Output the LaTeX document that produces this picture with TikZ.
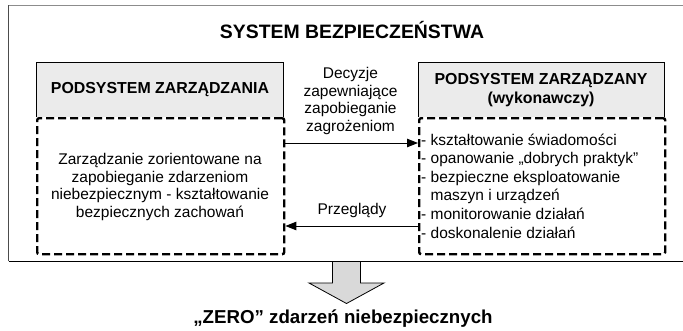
\documentclass[tikz,border=0pt]{standalone}
\usepackage{fontspec}
\setmainfont{Liberation Sans}
\usetikzlibrary{arrows.meta}
\definecolor{hdrfill}{HTML}{EBEBEB}
\definecolor{bigarrow}{HTML}{D9D9D9}
\tikzset{
  body/.style={font=\fontsize{15.5}{17.8}\selectfont, inner sep=0pt},
  hdrtext/.style={font=\bfseries\fontsize{15.9}{18.2}\selectfont, inner sep=0pt, align=center},
  dashbox/.style={draw, line width=2.4pt, dash pattern=on 8pt off 4pt, rounded corners=2pt},
  conn/.style={line width=1pt, -{Triangle[length=11pt,width=8.5pt]}},
}
\begin{document}
\begin{tikzpicture}[x=1pt,y=-1pt]
\useasboundingbox (0,0) rectangle (683,330);
% outer frame
\draw[line width=1pt, color=black!45] (8.5,5) -- (690,5);
\draw[line width=1.2pt, color=black!70] (8.5,5) -- (8.5,261);
\draw[line width=1pt] (8.5,261) -- (690,261);
\node[font=\bfseries\fontsize{19.4}{22}\selectfont, inner sep=0pt] (title) at (352,30) {SYSTEM BEZPIECZEŃSTWA};

% left header box
\fill[hdrfill] (36,62) rectangle (283,117);
\draw[line width=1pt] (36,117) -- (36,62) -- (283,62) -- (283,117);
\node[hdrtext] (lh) at (160,90) {PODSYSTEM ZARZĄDZANIA};
% right header box
\fill[hdrfill] (418,62) rectangle (664,117);
\draw[line width=1pt] (418,117) -- (418,62) -- (664,62) -- (664,117);
\node[hdrtext] (rh) at (541,90) {PODSYSTEM ZARZĄDZANY\\(wykonawczy)};

% dashed bodies
\node[dashbox, minimum width=247pt, minimum height=136pt, anchor=north west] (lb) at (36,117) {};
\node[dashbox, minimum width=246pt, minimum height=136pt, anchor=north west] (rb) at (418,117) {};

\node[body, align=center] (ltxt) at (160,187) {Zarządzanie zorientowane na\\zapobieganie zdarzeniom\\niebezpiecznym - kształtowanie\\bezpiecznych zachowań};
\node[body, align=left, anchor=west, font=\fontsize{15.5}{18.6}\selectfont] (rtxt) at (421,186) {- kształtowanie świadomości\\- opanowanie „dobrych praktyk”\\- bezpieczne eksploatowanie\\\hphantom{- }maszyn i urządzeń\\- monitorowanie działań\\- doskonalenie działań};

% connectors
\draw[conn] (lb.east |- 0,143) -- (rb.west |- 0,143);
\draw[conn] (rb.west |- 0,226) -- (lb.east |- 0,226);
\node[body, align=center] (dec) at (350.5,101) {Decyzje\\zapewniające\\zapobieganie\\zagrożeniom};
\node[body] (prz) at (352,210) {Przeglądy};

% big arrow
\draw[fill=bigarrow, line width=0.8pt] (332.5,262) -- (332.5,283) -- (309,283) -- (346.5,303.5) -- (384,283) -- (360.5,283) -- (360.5,262);
\node[font=\bfseries\fontsize{18.7}{22}\selectfont, inner sep=0pt] (zero) at (343,319) {„ZERO” zdarzeń niebezpiecznych};
\end{tikzpicture}
\end{document}
